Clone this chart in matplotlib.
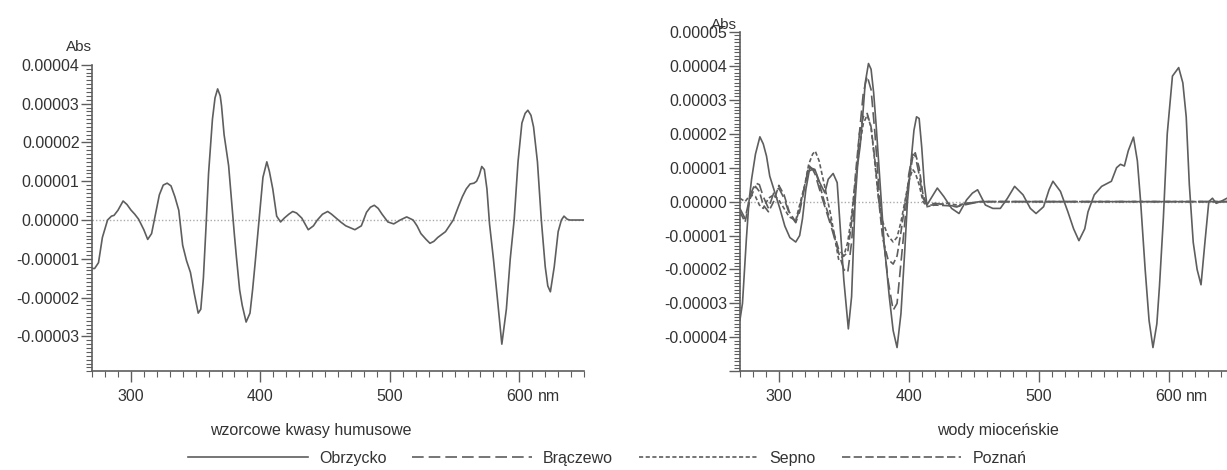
import matplotlib
matplotlib.use('Agg')
import matplotlib.pyplot as plt
from matplotlib.ticker import MultipleLocator, FuncFormatter
import numpy as np

plt.rcParams['font.family'] = ['Liberation Sans', 'DejaVu Sans']

# --- left panel: wzorcowe kwasy humusowe (units of 1e-5 Abs) ---
std_nm = [270, 272, 275, 278, 282, 285, 287, 290, 294, 297, 300, 303, 306, 310, 313, 316,
          319, 322, 325, 328, 331, 334, 337, 340, 343, 346, 349, 352, 354, 356, 358, 360,
          363, 365, 367, 369, 370, 372, 375.5, 378, 380, 381.5, 384, 386, 389, 392, 394,
          396, 399, 402, 405, 407, 409.6, 412.6, 415.6, 418.5, 422, 425, 428, 432, 437,
          441, 444, 448, 452, 455, 458.5, 462, 466, 473, 478, 482, 485, 488, 491, 494,
          498.5, 503, 508, 513, 518, 521, 524, 528, 531, 534, 537, 543, 549, 553, 556,
          559, 562, 565, 567, 569, 571, 573, 575, 577, 580, 583, 586.5, 590, 593, 596,
          599, 602, 604.5, 606.6, 609, 611, 614, 617, 620, 622, 624, 627, 630, 632.5,
          634.5, 637, 639, 645, 650]
std_abs = [-1.25, -1.25, -1.1, -0.45, 0.0, 0.1, 0.12, 0.25, 0.49, 0.4, 0.26, 0.15, 0.02,
           -0.25, -0.5, -0.35, 0.15, 0.65, 0.9, 0.95, 0.88, 0.6, 0.25, -0.65, -1.05, -1.35,
           -1.9, -2.4, -2.3, -1.5, -0.2, 1.2, 2.6, 3.15, 3.38, 3.2, 2.95, 2.2, 1.4, 0.4,
           -0.4, -0.95, -1.8, -2.2, -2.63, -2.4, -1.8, -1.1, 0.0, 1.1, 1.5, 1.25, 0.8,
           0.1, -0.05, 0.05, 0.15, 0.22, 0.18, 0.05, -0.25, -0.15, 0.0, 0.15, 0.22, 0.15,
           0.05, -0.05, -0.15, -0.25, -0.15, 0.2, 0.33, 0.38, 0.3, 0.15, -0.05, -0.1, 0.0,
           0.08, 0.0, -0.15, -0.35, -0.5, -0.6, -0.55, -0.45, -0.3, 0.0, 0.35, 0.6, 0.8,
           0.93, 0.95, 1.0, 1.15, 1.38, 1.3, 0.8, -0.1, -1.0, -2.0, -3.2, -2.3, -1.0, 0.0,
           1.5, 2.5, 2.75, 2.83, 2.7, 2.4, 1.5, 0.0, -1.2, -1.7, -1.85, -1.2, -0.3, 0.0,
           0.1, 0.02, 0.0, 0.0, 0.0]

# --- right panel: wody mioceńskie ---
obr_nm = [270, 272, 275, 277, 279, 282, 285.4, 288, 290.5, 293, 297, 301, 304.6, 308.5,
          313, 316, 318.2, 320.8, 323.8, 327.7, 331.5, 335.4, 338, 341.8, 344.9, 347,
          350, 353.5, 356, 358.7, 360.7, 362.6, 364.5, 366.5, 369, 371, 373, 375, 378,
          381, 385, 388, 391, 394, 397, 399, 401.8, 404, 406, 408, 410, 412, 414, 418,
          422, 427, 433, 438.7, 444.5, 449, 453, 459, 464.7, 470.5, 476, 481.5, 488,
          493.6, 498, 503.8, 508, 511, 516.8, 522.5, 526.9, 531, 535.5, 538, 542.8,
          548.5, 556, 560, 563, 566, 569, 573, 576, 578.5, 582, 585, 588, 591, 593,
          596, 599, 603, 607.8, 611, 613.6, 616, 619, 622, 625, 628, 631, 633.8, 636.7,
          640, 645]
obr_abs = [-3.5, -3.0, -1.1, 0.0, 0.66, 1.4, 1.91, 1.7, 1.34, 0.75, 0.26, -0.23, -0.72,
           -1.06, -1.19, -1.0, -0.5, 0.36, 1.0, 0.95, 0.56, 0.26, 0.66, 0.83, 0.56, -0.62,
           -2.3, -3.75, -2.8, 0.0, 1.1, 1.64, 2.5, 3.5, 4.07, 3.9, 3.2, 2.2, 0.5, -1.2,
           -2.8, -3.8, -4.3, -3.3, -1.4, 0.0, 1.2, 2.1, 2.5, 2.45, 1.6, 0.5, -0.1, 0.15,
           0.4, 0.15, -0.2, -0.35, 0.05, 0.25, 0.35, -0.1, -0.2, -0.2, 0.1, 0.45, 0.2,
           -0.2, -0.35, -0.15, 0.35, 0.6, 0.3, -0.3, -0.8, -1.15, -0.8, -0.3, 0.2, 0.45,
           0.6, 1.0, 1.1, 1.05, 1.5, 1.9, 1.2, 0.0, -2.0, -3.5, -4.3, -3.6, -2.5, -0.5,
           2.0, 3.7, 3.95, 3.5, 2.5, 0.5, -1.2, -2.0, -2.45, -1.2, 0.0, 0.1, -0.05, 0.0,
           0.1]

sec_nm = [270, 274, 278, 282, 285, 288, 292, 296, 300, 304, 308, 313, 316, 320, 323,
          326, 328, 331, 335, 340, 346, 350, 353, 356, 359, 362, 365, 368, 371, 374,
          377, 380, 384, 388, 391, 394, 397, 400, 403, 405, 408, 411, 414, 420, 430,
          437, 445, 455, 470, 500, 550, 600, 645]
brz_abs = [-0.2, -0.5, 0.2, 0.55, 0.5, 0.15, -0.2, 0.25, 0.4, 0.1, -0.35, -0.62, -0.3,
           0.45, 1.07, 0.95, 0.8, 0.4, -0.1, -0.7, -1.5, -2.0, -2.1, -1.2, 0.4, 2.0, 3.2,
           3.7, 3.3, 2.0, 0.4, -0.9, -2.3, -3.2, -3.0, -1.8, -0.6, 0.8, 1.4, 1.35, 0.8,
           0.1, -0.1, -0.05, -0.1, -0.15, -0.08, 0.0, 0.0, 0.0, 0.0, 0.0, 0.0]
sep_abs = [0.1, 0.0, 0.2, 0.15, -0.1, -0.2, 0.1, 0.2, 0.05, -0.2, -0.45, -0.55, -0.1,
           0.5, 1.1, 1.4, 1.49, 1.2, 0.5, -0.4, -1.7, -1.6, -1.2, -0.4, 0.6, 1.6, 2.3,
           2.55, 2.2, 1.1, 0.0, -0.6, -1.0, -1.19, -1.05, -0.6, 0.0, 0.6, 0.95, 0.85,
           0.5, 0.0, -0.15, -0.1, -0.05, -0.1, -0.05, 0.0, 0.0, 0.0, 0.0, 0.0, 0.0]
poz_abs = [-0.3, -0.6, 0.1, 0.45, 0.3, -0.1, -0.3, 0.0, 0.48, 0.2, -0.3, -0.6, -0.2,
           0.5, 0.9, 0.95, 0.9, 0.55, 0.0, -0.6, -1.4, -1.6, -1.5, -0.6, 0.8, 2.0, 2.5,
           2.6, 2.2, 1.2, 0.0, -1.1, -1.7, -1.84, -1.6, -0.9, -0.1, 0.6, 1.3, 1.44, 1.0,
           0.2, -0.1, -0.1, -0.12, -0.15, -0.05, 0.0, 0.0, 0.0, 0.0, 0.0, 0.0]

labels = ['Obrzycko', 'Brączewo', 'Sepno', 'Poznań']

line_col = '#5e5e5e'
txt_col = '#333333'
styles = ['-', (0, (7, 3)), (0, (2.5, 1.5)), (0, (5, 2))]
scale = 1e-5


def fmt(v, pos, ymin):
    if v < ymin + 1e-7:
        return ''
    return '%.5f' % v


def style_axis(ax, ymin, ymax, xmax):
    ax.set_xlim(270, xmax)
    ax.set_ylim(ymin, ymax)
    for s in ['top', 'right']:
        ax.spines[s].set_visible(False)
    for s in ['left', 'bottom']:
        ax.spines[s].set_color(line_col)
        ax.spines[s].set_linewidth(1.2)
    ax.xaxis.set_major_locator(MultipleLocator(100))
    ax.xaxis.set_minor_locator(MultipleLocator(10))
    ax.yaxis.set_major_locator(MultipleLocator(1e-5))
    ax.yaxis.set_minor_locator(MultipleLocator(1e-6))
    ax.yaxis.set_major_formatter(FuncFormatter(lambda v, p: fmt(v, p, ymin)))
    ax.tick_params(which='major', length=8, width=1, color=line_col,
                   labelsize=11.5, labelcolor=txt_col)
    ax.tick_params(which='minor', length=4, width=0.8, color=line_col)
    ax.tick_params(axis='x', which='major', pad=5)
    ax.tick_params(axis='y', which='major', pad=1)
    ax.axhline(0, color='#aaaaaa', lw=1, ls=(0, (1, 1.5)), zorder=0)


fig = plt.figure(figsize=(12.27, 4.70), dpi=100)
ax1 = fig.add_axes([0.075, 0.21, 0.401, 0.652])
ax2 = fig.add_axes([0.603, 0.21, 0.397, 0.722])

ax1.plot(std_nm, np.array(std_abs) * scale, color=line_col, lw=1.2)
style_axis(ax1, -3.9e-5, 4e-5, 650)
ax1.text(0.0, 1.035, 'Abs', transform=ax1.transAxes, ha='right', va='bottom',
         fontsize=11, color=txt_col)
ax1.set_xlabel('wzorcowe kwasy humusowe', fontsize=11.5, color=txt_col)
ax1.xaxis.set_label_coords(0.445, -0.168)

handles = []
for x, y, ls, lab in zip([obr_nm, sec_nm, sec_nm, sec_nm],
                         [obr_abs, brz_abs, sep_abs, poz_abs], styles, labels):
    h, = ax2.plot(x, np.array(y) * scale, color=line_col, lw=1.2, ls=ls, label=lab)
    handles.append(h)
style_axis(ax2, -5e-5, 5e-5, 645)
ax2.text(-0.005, 1.0, 'Abs', transform=ax2.transAxes, ha='right', va='bottom',
         fontsize=11, color=txt_col)
ax2.set_xlabel('wody mioceńskie', fontsize=11.5, color=txt_col)
ax2.xaxis.set_label_coords(0.53, -0.152)

for ax, xn in [(ax1, 623), (ax2, 622)]:
    ax.annotate('nm', xy=(xn, 0), xycoords=('data', 'axes fraction'),
                xytext=(0, -13), textcoords='offset points', ha='center', va='top',
                fontsize=11.5, color=txt_col)

fig.legend(handles=handles, labels=labels, loc='lower center', ncol=4,
           bbox_to_anchor=(0.495, -0.022), frameon=False, fontsize=11.5,
           handlelength=7.5, handletextpad=0.7, columnspacing=1.6,
           labelcolor=txt_col)

fig.savefig('out.png', dpi=100)
